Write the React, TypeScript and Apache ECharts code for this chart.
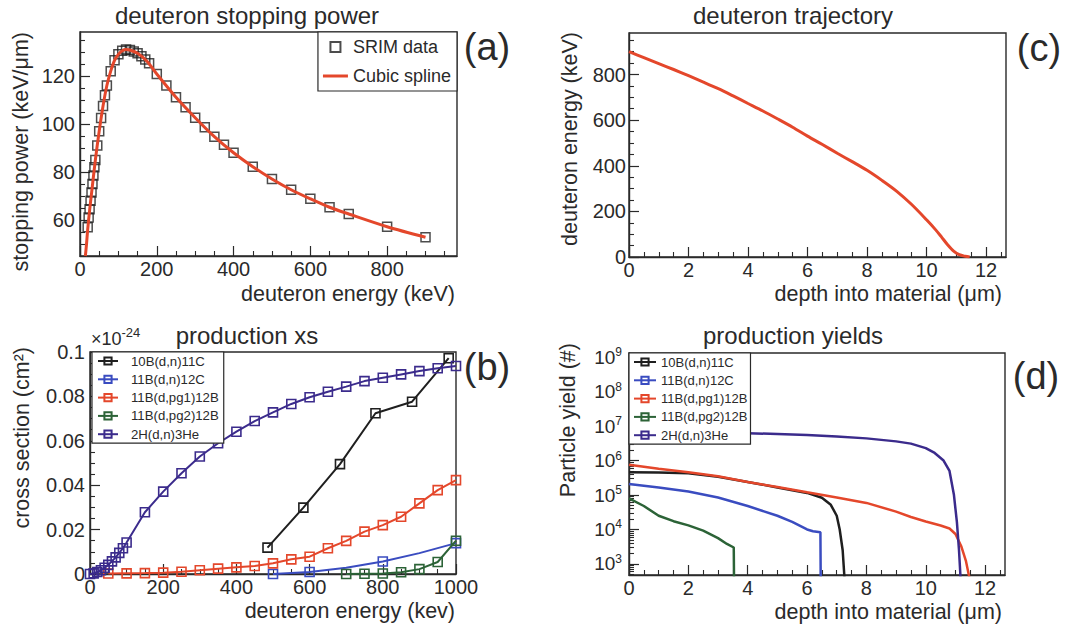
import React, { useEffect, useRef } from 'react';
import * as echarts from 'echarts';

const FONT = '"Liberation Sans", Arial, Helvetica, sans-serif';
const INK = '#2a2a2a';
const RED = '#e4472b';
const BLACK = '#1f1f1f';
const BLUE = '#3a4cc0';
const GREEN = '#2c6337';
const PURPLE = '#3b2b8c';

// ---------- (a) deuteron stopping power ----------
const srimEnergy = [20, 22.5, 25, 27.5, 30, 32.5, 35, 37.5, 40, 45, 50, 55, 60, 65, 70, 80, 90, 100, 110, 120, 130, 140, 150, 160, 170, 180, 200, 225, 250, 275, 300, 325, 350, 375, 400, 450, 500, 550, 600, 650, 700, 800, 900];
const srimPower = [57, 61, 64.5, 68, 71.5, 75, 78.5, 82, 85, 91, 97, 102.5, 107.5, 112, 116, 122, 126.5, 129, 130.5, 131, 130.8, 130.2, 129.4, 128.2, 126.8, 125.3, 120.8, 116, 111.1, 107, 102.6, 98.6, 94.7, 91.3, 88, 82.2, 77.1, 72.6, 68.8, 65.3, 62.5, 57.2, 52.8];
const splineEnergy = [14, 17, 20, 25, 30, 40, 50, 60, 70, 80, 90, 100, 110, 120, 130, 150, 175, 200, 250, 300, 350, 400, 450, 500, 550, 600, 650, 700, 800, 900];
const splinePower = [45, 50, 56, 64, 71, 85, 97, 107.5, 116, 122, 126.5, 129, 130.5, 131, 130.8, 129.4, 126, 120.8, 111.1, 102.6, 94.7, 88, 82.2, 77.1, 72.6, 68.8, 65.3, 62.5, 57.2, 52.8];
const aXMajor = [0, 200, 400, 600, 800];
const aXMinor = [50, 100, 150, 250, 300, 350, 450, 500, 550, 650, 700, 750, 850, 900, 950];
const aYMajor = [60, 80, 100, 120];
const aYMinor = [50, 55, 65, 70, 75, 85, 90, 95, 105, 110, 115, 125, 130, 135];

// ---------- (c) deuteron trajectory ----------
const trajDepth = [0, 0.5, 1, 1.5, 2, 2.5, 3, 3.5, 4, 4.5, 5, 5.5, 6, 6.5, 7, 7.5, 8, 8.5, 9, 9.5, 10, 10.3, 10.5, 10.7, 10.9, 11.1, 11.3, 11.45];
const trajEnergy = [900, 874, 848, 822, 795, 767, 738, 706, 673, 640, 605, 569, 530, 493, 455, 418, 380, 336, 288, 230, 163, 120, 88, 55, 27, 10, 3, 0];
const cYMajor = [0, 200, 400, 600, 800];
const cYMinor = [50, 100, 150, 250, 300, 350, 450, 500, 550, 650, 700, 750, 850, 900, 950];
const depthMajor = [0, 2, 4, 6, 8, 10, 12];
const depthMinor = [0.5, 1, 1.5, 2.5, 3, 3.5, 4.5, 5, 5.5, 6.5, 7, 7.5, 8.5, 9, 9.5, 10.5, 11, 11.5, 12.5];

// ---------- (b) production cross sections (x 1e-24 cm^2) ----------
const reactionNames = ['10B(d,n)11C', '11B(d,n)12C', '11B(d,pg1)12B', '11B(d,pg2)12B', '2H(d,n)3He'];
const reactionColors = [BLACK, BLUE, RED, GREEN, PURPLE];
const xs10BnE = [485, 583, 683, 780, 880, 980];
const xs10Bn = [0.0119, 0.0299, 0.0495, 0.0724, 0.0776, 0.0972];
const xs11BnE = [500, 600, 700, 800, 900, 1000];
const xs11Bn = [0, 0.0009, 0.0028, 0.0056, 0.0094, 0.0139];
const xs11BnMarked = [1, 1, 0, 1, 0, 1];
const xsPg1E = [50, 100, 150, 200, 250, 300, 350, 400, 450, 500, 550, 600, 650, 700, 750, 800, 850, 900, 950, 1000];
const xsPg1 = [0.0002, 0.0003, 0.0004, 0.0006, 0.001, 0.0017, 0.0024, 0.003, 0.0036, 0.0048, 0.0066, 0.0078, 0.0116, 0.0149, 0.0191, 0.022, 0.0258, 0.0318, 0.0378, 0.0423];
const xsPg2E = [700, 750, 800, 850, 900, 950, 1000];
const xsPg2 = [0, 0.0001, 0.0002, 0.0008, 0.0022, 0.0054, 0.015];
const xs2HE = [0, 10, 20, 30, 40, 50, 60, 70, 80, 90, 100, 150, 200, 250, 300, 350, 400, 450, 500, 550, 600, 650, 700, 750, 800, 850, 900, 950, 1000];
const xs2H = [0, 0.0003, 0.0009, 0.0017, 0.0028, 0.0041, 0.0057, 0.0075, 0.0095, 0.0116, 0.0142, 0.0278, 0.0371, 0.0454, 0.0529, 0.0589, 0.0641, 0.0689, 0.0728, 0.0766, 0.0796, 0.0821, 0.0844, 0.0869, 0.0884, 0.0899, 0.0914, 0.0927, 0.0937];
const bXMajor = [0, 200, 400, 600, 800, 1000];
const bXMinor = [50, 100, 150, 250, 300, 350, 450, 500, 550, 650, 700, 750, 850, 900, 950];
const bYMajor = [0, 0.02, 0.04, 0.06, 0.08, 0.1];
const bYMinor = [0.005, 0.01, 0.015, 0.025, 0.03, 0.035, 0.045, 0.05, 0.055, 0.065, 0.07, 0.075, 0.085, 0.09, 0.095];

// ---------- (d) production yields ----------
const yld10BnD = [0, 1, 2, 3, 4, 5, 6, 6.5, 6.8, 7.0, 7.1, 7.2, 7.27];
const yld10Bn = [4.6e5, 4.5e5, 4.3e5, 3.4e5, 2.4e5, 1.66e5, 1.15e5, 8.3e4, 5.2e4, 2.5e4, 1e4, 2.5e3, 300];
const yld11BnD = [0, 1, 2, 3, 4, 5, 5.5, 6, 6.2, 6.45, 6.46];
const yld11Bn = [2.1e5, 1.66e5, 1.26e5, 8.5e4, 4.8e4, 2.5e4, 1.66e4, 1.0e4, 8.9e3, 8.3e3, 300];
const yldPg1D = [0, 1, 2, 3, 4, 5, 6, 7, 8, 9, 9.5, 10, 10.5, 10.8, 11.0, 11.2, 11.35, 11.5];
const yldPg1 = [7.6e5, 5.8e5, 4.6e5, 3.5e5, 2.4e5, 1.7e5, 1.2e5, 8.5e4, 5.9e4, 3.3e4, 2.3e4, 1.7e4, 1.3e4, 1.07e4, 7.4e3, 3.2e3, 1.25e3, 300];
const yldPg2D = [0, 0.5, 1, 1.5, 2, 2.5, 3, 3.3, 3.53, 3.54];
const yldPg2 = [8e4, 4.8e4, 2.5e4, 1.74e4, 1.32e4, 9.3e3, 5.6e3, 3.8e3, 3.0e3, 300];
const yld2HD = [0, 2, 4, 5, 6, 7, 8, 9, 9.5, 10, 10.3, 10.6, 10.8, 10.95, 11.05, 11.12, 11.18];
const yld2H = [6.9e6, 6.6e6, 6.2e6, 5.9e6, 5.5e6, 5.0e6, 4.4e6, 3.6e6, 3.1e6, 2.3e6, 1.66e6, 1.0e6, 5e5, 1e5, 1.6e4, 2.5e3, 300];
const dYMajor = [1e3, 1e4, 1e5, 1e6, 1e7, 1e8, 1e9];
const dYMinorFactors = [2, 3, 4, 5, 6, 7, 8, 9];
const dYMinorDecades = [1e2, 1e3, 1e4, 1e5, 1e6, 1e7, 1e8];

const zip = (xs: number[], ys: number[]) => xs.map((x, i) => [x, ys[i]]);

const fmtPlain = (v: number) => String(Math.round(v * 1000) / 1000);

function axisPair(kind: 'x' | 'y', grid: number, type: string, min: number, max: number,
  majors: number[], minors: number[], fmt: any, margin: number, rich?: any) {
  const common = {
    type, gridIndex: grid, min, max,
    position: kind === 'x' ? 'bottom' : 'left',
    splitLine: { show: false },
    splitArea: { show: false },
  };
  const main = {
    ...common,
    axisLine: { show: true, onZero: false, lineStyle: { color: INK, width: 1.4 } },
    axisTick: { show: true, inside: true, length: 10, customValues: majors, lineStyle: { color: INK, width: 1.2 } },
    axisLabel: {
      show: true, customValues: majors, formatter: fmt, color: INK, fontSize: 20,
      fontFamily: FONT, margin, ...(rich ? { rich } : {}),
    },
  };
  const minor = {
    ...common,
    offset: 0,
    axisLine: { show: false, onZero: false },
    axisTick: { show: true, inside: true, length: 5, customValues: minors, lineStyle: { color: INK, width: 1.1 } },
    axisLabel: { show: false },
  };
  return [main, minor];
}

function xsSeries(idx: number, E: number[], S: number[], marked?: number[]) {
  const color = reactionColors[idx];
  return {
    type: 'line', name: reactionNames[idx], xAxisIndex: 2, yAxisIndex: 2,
    data: E.map((e, i) => (marked && !marked[i] ? { value: [e, S[i]], symbol: 'none' } : [e, S[i]])),
    symbol: 'rect', symbolSize: 9, showAllSymbol: true,
    lineStyle: { color, width: 2 },
    itemStyle: { color: 'rgba(255,255,255,0)', borderColor: color, borderWidth: 1.6 },
    z: 3 + idx,
  };
}

function yldSeries(idx: number, D: number[], Y: number[]) {
  const color = reactionColors[idx];
  return {
    type: 'line', name: reactionNames[idx], xAxisIndex: 6, yAxisIndex: 6,
    data: zip(D, Y),
    symbol: 'rect', symbolSize: 9, showSymbol: false,
    lineStyle: { color, width: 2.5 },
    itemStyle: { color: 'rgba(255,255,255,0)', borderColor: color, borderWidth: 1.6 },
    z: 3 + idx,
  };
}

function txt(text: string, x: number, y: number, size: number, align = 'center', rotate = 0) {
  return {
    type: 'text', x, y, rotation: rotate, silent: true, z: 50,
    style: { text, fill: INK, fontSize: size, fontFamily: FONT, align, verticalAlign: 'middle' },
  };
}

export default function App() {
  const ref = useRef<HTMLDivElement>(null);
  useEffect(() => {
    if (!ref.current) return;
    const chart = echarts.init(ref.current, undefined, { renderer: 'svg' });

    const logRich = {
      b: { fontSize: 19, fontFamily: FONT, color: INK, lineHeight: 22, verticalAlign: 'middle' },
      s: { fontSize: 12, fontFamily: FONT, color: INK, lineHeight: 12, verticalAlign: 'top' },
    };
    const dYMinor: number[] = [];
    dYMinorDecades.forEach((d) => dYMinorFactors.forEach((f) => dYMinor.push(f * d)));

    const xAxis = [
      ...axisPair('x', 0, 'value', 0, 982, aXMajor, aXMinor, fmtPlain, 3),
      ...axisPair('x', 1, 'value', 0, 1000, bXMajor, bXMinor, fmtPlain, 3),
      ...axisPair('x', 2, 'value', 0, 12.67, depthMajor, depthMinor, fmtPlain, 3),
      ...axisPair('x', 3, 'value', 0, 12.67, depthMajor, depthMinor, fmtPlain, 3),
    ];
    const yAxis = [
      ...axisPair('y', 0, 'value', 45, 138.3, aYMajor, aYMinor, fmtPlain, 5),
      ...axisPair('y', 1, 'value', 0, 0.1, bYMajor, bYMinor, fmtPlain, 5),
      ...axisPair('y', 2, 'value', 0, 982, cYMajor, cYMinor, fmtPlain, 3),
      ...axisPair('y', 3, 'log', 478, 1.32e9, dYMajor, dYMinor,
        (v: number) => `{b|10}{s|${Math.round(Math.log10(v))}}`, 7, logRich),
    ];

    const gridBase = { show: true, borderColor: INK, borderWidth: 1.4, backgroundColor: 'rgba(0,0,0,0)', containLabel: false, outerBoundsMode: 'none' };
    const legendBase = {
      orient: 'vertical', selectedMode: false, backgroundColor: '#fff', borderColor: INK, borderWidth: 1.2,
      borderRadius: 0, z: 20, symbolKeepAspect: true,
    };

    chart.setOption({
      animation: false,
      backgroundColor: '#fff',
      textStyle: { fontFamily: FONT },
      grid: [
        { ...gridBase, left: 80, top: 32, width: 377, height: 224 },
        { ...gridBase, left: 90, top: 352, width: 366, height: 222 },
        { ...gridBase, left: 629, top: 33, width: 377, height: 224 },
        { ...gridBase, left: 629, top: 353, width: 376, height: 222 },
      ],
      xAxis,
      yAxis,
      legend: [
        {
          ...legendBase, right: 627, top: 32,
          data: [
            { name: 'SRIM data', icon: 'path://M0,0H10V10H0Z' },
            { name: 'Cubic spline', icon: 'path://M0,0H25V3H0Z' },
          ],
          itemWidth: 25, itemHeight: 10, itemGap: 11, padding: [6, 6, 6, 5],
          textStyle: { fontSize: 18, lineHeight: 18, color: INK, fontFamily: FONT },
        },
        {
          ...legendBase, left: 92, top: 352, data: reactionNames,
          itemWidth: 20, itemHeight: 9, itemGap: 4.3, padding: [2, 5, 2, 5],
          textStyle: { fontSize: 13.2, lineHeight: 14, color: INK, fontFamily: FONT, padding: [0, 0, 0, 8] },
        },
        {
          ...legendBase, left: 629, top: 353, data: reactionNames,
          itemWidth: 22, itemHeight: 9, itemGap: 4.3, padding: [2, 3, 2, 4],
          textStyle: { fontSize: 13, lineHeight: 14, color: INK, fontFamily: FONT },
        },
      ],
      series: [
        {
          type: 'scatter', name: 'SRIM data', xAxisIndex: 0, yAxisIndex: 0,
          data: zip(srimEnergy, srimPower), symbol: 'rect', symbolSize: 9,
          itemStyle: { color: 'rgba(255,255,255,0)', borderColor: BLACK, borderWidth: 1.5 }, z: 2,
        },
        {
          type: 'line', name: 'Cubic spline', xAxisIndex: 0, yAxisIndex: 0,
          data: zip(splineEnergy, splinePower), smooth: 0.3, symbol: 'none',
          lineStyle: { color: RED, width: 3 }, itemStyle: { color: RED }, z: 3,
        },
        {
          type: 'line', name: 'trajectory', xAxisIndex: 4, yAxisIndex: 4,
          data: zip(trajDepth, trajEnergy), smooth: 0.3, symbol: 'none',
          lineStyle: { color: RED, width: 3 }, z: 3,
        },
        xsSeries(0, xs10BnE, xs10Bn),
        xsSeries(1, xs11BnE, xs11Bn, xs11BnMarked),
        xsSeries(2, xsPg1E, xsPg1),
        xsSeries(3, xsPg2E, xsPg2),
        xsSeries(4, xs2HE, xs2H),
        yldSeries(0, yld10BnD, yld10Bn),
        yldSeries(1, yld11BnD, yld11Bn),
        yldSeries(2, yldPg1D, yldPg1),
        yldSeries(3, yldPg2D, yldPg2),
        yldSeries(4, yld2HD, yld2H),
      ],
      graphic: [
        txt('deuteron stopping power', 247, 15, 24),
        txt('deuteron trajectory', 793, 15, 24),
        txt('production xs', 247, 335, 24),
        txt('production yields', 793, 335, 24),
        txt('(a)', 487, 47, 38),
        txt('(c)', 1039, 48, 38),
        txt('(b)', 487, 367, 38),
        txt('(d)', 1036, 376, 38),
        txt('deuteron energy (keV)', 455, 294, 21.5, 'right'),
        txt('depth into material (\u03bcm)', 1002, 294, 21.5, 'right'),
        txt('deuteron energy (kev)', 455, 611, 21.5, 'right'),
        txt('depth into material (\u03bcm)', 1002, 612, 21.5, 'right'),
        txt('stopping power (keV/\u03bcm)', 21, 32, 21.5, 'right', Math.PI / 2),
        txt('deuteron energy (keV)', 570, 32, 21.5, 'right', Math.PI / 2),
        txt('cross section (cm\u00b2)', 22, 347, 21.5, 'right', Math.PI / 2),
        txt('Particle yield (#)', 568, 343, 21.5, 'right', Math.PI / 2),
        {
          type: 'text', x: 91, y: 337, silent: true, z: 50,
          style: {
            text: '{a|\u00d710}{b|-24}', fontFamily: FONT, fill: INK, verticalAlign: 'middle',
            rich: {
              a: { fontSize: 18, fontFamily: FONT, fill: INK, lineHeight: 22, verticalAlign: 'bottom' },
              b: { fontSize: 13, fontFamily: FONT, fill: INK, lineHeight: 13, verticalAlign: 'top' },
            },
          },
        },
      ],
    });
    return () => chart.dispose();
  }, []);
  return (
    <div
      ref={ref}
      style={{ position: 'absolute', left: 0, top: 0, width: 1084, height: 628, background: '#fff' }}
    />
  );
}
